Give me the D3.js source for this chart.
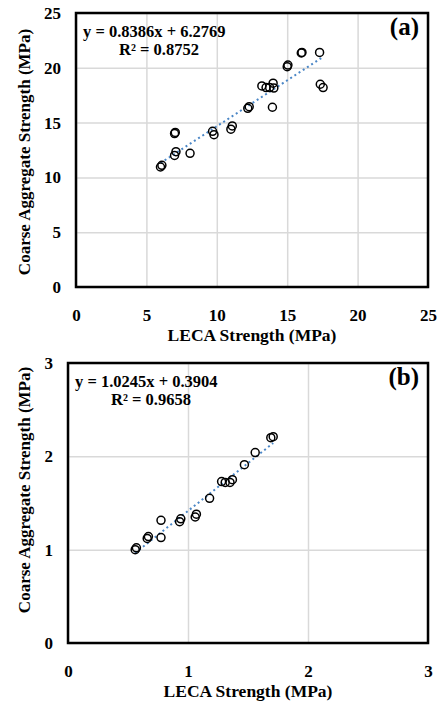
<!DOCTYPE html>
<html>
<head>
<meta charset="utf-8">
<script src="https://cdn.jsdelivr.net/npm/d3@7"></script>
<style>
    body { margin: 0; background: #fff; }
    svg text { font-family: "Liberation Serif", "Times New Roman", serif; font-weight: bold; fill: #000; }
</style>
</head>
<body>
<div id="chart"></div>
<script>
// panel (a) - compressive strength
var aLeca = [6.0, 6.1, 7.0, 7.05, 7.0, 7.1, 8.1, 9.7, 9.8, 11.0, 11.1, 12.2, 12.3, 13.2, 13.5, 13.75, 14.0, 14.05, 13.95, 15.0, 15.05, 16.0, 16.05, 17.3, 17.35, 17.55];
var aCoarse = [10.95, 11.1, 14.0, 14.1, 12.0, 12.35, 12.2, 14.2, 13.9, 14.4, 14.7, 16.3, 16.45, 18.35, 18.2, 18.2, 18.6, 18.15, 16.4, 20.1, 20.25, 21.35, 21.4, 21.4, 18.5, 18.2];
var aTicks = [0, 5, 10, 15, 20, 25];
var aFit = [0.8386, 6.2769];
var aEquation = ["y = 0.8386x + 6.2769", "R² = 0.8752"];

// panel (b) - tensile strength
var bLeca = [0.56, 0.57, 0.66, 0.67, 0.775, 0.775, 0.93, 0.94, 1.06, 1.07, 1.18, 1.28, 1.31, 1.35, 1.37, 1.47, 1.56, 1.69, 1.71];
var bCoarse = [1.0, 1.02, 1.12, 1.14, 1.13, 1.315, 1.30, 1.33, 1.35, 1.38, 1.55, 1.73, 1.72, 1.72, 1.75, 1.91, 2.04, 2.2, 2.21];
var bTicks = [0, 1, 2, 3];
var bFit = [1.0245, 0.3904];
var bEquation = ["y = 1.0245x + 0.3904", "R² = 0.9658"];

var xTitle = "LECA Strength (MPa)";
var yTitle = "Coarse Aggregate Strength (MPa)";

var svg = d3.select("#chart")
    .append("svg")
    .attr("width", 442)
    .attr("height", 704);

function drawPanel(xs, ys, ticks, fit, equation, tag, box) {
    var data = xs.map(function (x, i) {
        return {x: x, y: ys[i]};
    });
    var max = ticks[ticks.length - 1];

//scale function
    var xScale = d3.scaleLinear().domain([0, max]).range([box.left, box.right]);
    var yScale = d3.scaleLinear().domain([0, max]).range([box.bottom, box.top]);

    var g = svg.append("g");

//grid
    g.append("g")
        .attr("transform", "translate(0," + box.bottom + ")")
        .call(d3.axisBottom(xScale).tickValues(ticks).tickSize(-(box.bottom - box.top)).tickFormat(""))
        .call(function (s) {
            s.select(".domain").remove();
            s.selectAll("line").attr("stroke", "#d9d9d9").attr("stroke-width", 1.5);
        });
    g.append("g")
        .attr("transform", "translate(" + box.left + ",0)")
        .call(d3.axisLeft(yScale).tickValues(ticks).tickSize(-(box.right - box.left)).tickFormat(""))
        .call(function (s) {
            s.select(".domain").remove();
            s.selectAll("line").attr("stroke", "#d9d9d9").attr("stroke-width", 1.5);
        });

//tick labels
    g.append("g")
        .attr("transform", "translate(0," + box.bottom + ")")
        .call(d3.axisBottom(xScale).tickValues(ticks).tickFormat(d3.format("d")).tickSize(0).tickPadding(22))
        .call(function (s) {
            s.select(".domain").remove();
            s.selectAll("text").style("font-size", "17px");
        });
    g.append("g")
        .attr("transform", "translate(" + box.left + ",0)")
        .call(d3.axisLeft(yScale).tickValues(ticks).tickFormat(d3.format("d")).tickSize(0).tickPadding(15))
        .call(function (s) {
            s.select(".domain").remove();
            s.selectAll("text").style("font-size", "17px");
        });

//trend line
    var x0 = d3.min(xs), x1 = d3.max(xs);
    g.append("line")
        .attr("x1", xScale(x0))
        .attr("y1", yScale(fit[0] * x0 + fit[1]))
        .attr("x2", xScale(x1))
        .attr("y2", yScale(fit[0] * x1 + fit[1]))
        .attr("stroke", "#4a86c6")
        .attr("stroke-width", 2)
        .attr("stroke-dasharray", "2,3");

//points
    g.selectAll("circle")
        .data(data)
        .enter()
        .append("circle")
        .attr("cx", function (d) {
            return xScale(d.x);
        })
        .attr("cy", function (d) {
            return yScale(d.y);
        })
        .attr("r", 4)
        .attr("fill", "none")
        .attr("stroke", "#000")
        .attr("stroke-width", 1.5);

//border
    g.append("rect")
        .attr("x", box.left)
        .attr("y", box.top)
        .attr("width", box.right - box.left)
        .attr("height", box.bottom - box.top)
        .attr("fill", "none")
        .attr("stroke", "#000")
        .attr("stroke-width", 2.5);

    g.append("text")
        .attr("x", box.left + 7)
        .attr("y", box.top + 23.5)
        .style("font-size", "16.5px")
        .text(equation[0]);
    g.append("text")
        .attr("x", box.left + 43)
        .attr("y", box.top + 41.5)
        .style("font-size", "16.5px")
        .text(equation[1]);

    g.append("text")
        .attr("x", box.right - 9)
        .attr("y", box.top + 22)
        .attr("text-anchor", "end")
        .style("font-size", "25px")
        .text(tag);

    g.append("text")
        .attr("x", (box.left + box.right) / 2)
        .attr("y", box.bottom + 54)
        .attr("text-anchor", "middle")
        .style("font-size", "17.5px")
        .text(xTitle);

    g.append("text")
        .attr("transform", "translate(30," + box.titleY + ") rotate(-90)")
        .attr("text-anchor", "middle")
        .style("font-size", "17px")
        .text(yTitle);
}

drawPanel(aLeca, aCoarse, aTicks, aFit, aEquation, "(a)", {left: 76, right: 428, top: 13, bottom: 287, titleY: 152});
drawPanel(bLeca, bCoarse, bTicks, bFit, bEquation, "(b)", {left: 68, right: 428, top: 363, bottom: 643, titleY: 490});
</script>
</body>
</html>
